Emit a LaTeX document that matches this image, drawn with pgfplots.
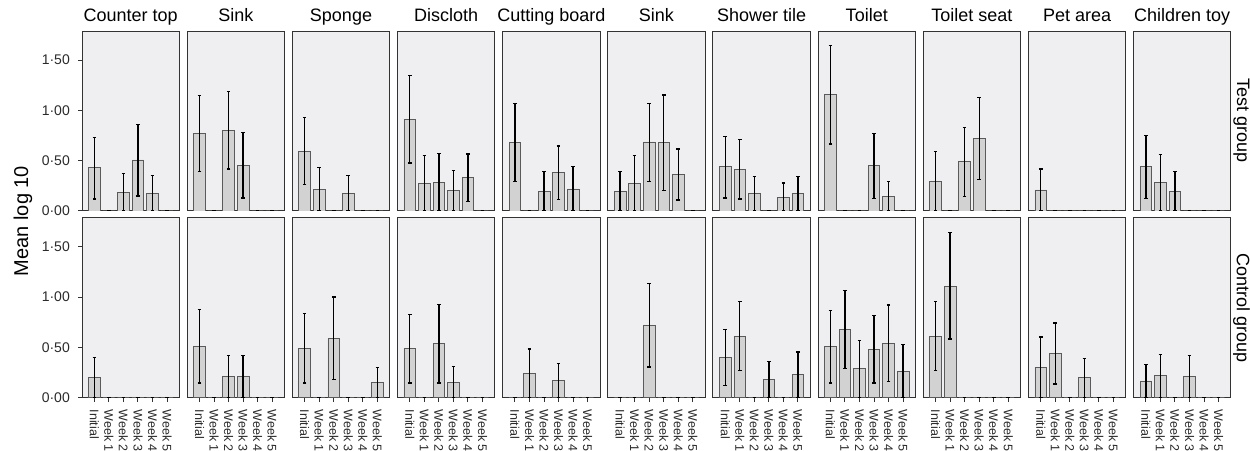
\documentclass[border=0pt]{standalone}
\usepackage{pgfplots}
\pgfplotsset{compat=1.18}
\usepackage{fontspec}
\setmainfont{Liberation Sans}
\definecolor{panelbg}{HTML}{EFEFF1}
\definecolor{barfill}{HTML}{D2D2D2}
\definecolor{baredge}{HTML}{5A5A5A}
\definecolor{framecol}{HTML}{333333}
\definecolor{ticktext}{HTML}{2A2A2A}
\pgfplotsset{
  panel/.style={
    scale only axis, width=97.4pt, height=179.7pt,
    anchor=south west,
    xmin=0.15, xmax=6.85, ymin=0, ymax=1.786,
    axis background/.style={fill=panelbg},
    axis line style={draw=framecol, line width=1pt},
    xtick=\empty, ytick=\empty,
    xtick pos=bottom, ytick pos=left,
    tick align=outside, major tick length=4pt,
    tick style={draw=framecol, line width=1pt},
    ticklabel style={font=\fontsize{14}{16}\selectfont, text=ticktext},
    xticklabel style={rotate=-90, anchor=west, inner sep=0pt, font=\fontsize{12.5}{14}\selectfont},
    yticklabel style={inner sep=0pt},
    xticklabel shift=7.8pt, yticklabel shift=8pt,
    title style={font=\fontsize{18}{20}\selectfont, at={(0.5,1)}, anchor=base, yshift=3.3pt, inner sep=0pt},
  },
  leftcol/.style={ytick={0,0.5,1,1.5}, yticklabels={0·00,0·50,1·00,1·50}},
  bottomrow/.style={xtick={1,2,3,4,5,6}, xticklabels={Initial,Week 1,Week 2,Week 3,Week 4,Week 5}},
  barplot/.style={ybar, bar width=0.8, fill=barfill, draw=baredge, line width=0.7pt,
    error bars/.cd, y dir=both, y explicit,
    error bar style={black, line width=1.3pt},
    error mark options={rotate=90, black, mark size=1.8pt, line width=1.2pt}},
}
\newcommand\panel[5]{%
\begin{axis}[panel,#4,at={(#1pt,#2pt)},title={#3}]
\addplot[barplot] table[row sep=\\, x=x, y=y, y error plus expr=\thisrow{hi}-\thisrow{y}, y error minus expr=\thisrow{y}-\thisrow{lo}]{x y lo hi\\ #5};
\end{axis}}
\begin{document}
\begin{tikzpicture}
\useasboundingbox (0,0) rectangle (1250pt,450pt);
% top row (Test group)
\panel{82}{239}{Counter top}{leftcol}{1 0.43 0.12 0.73\\ 2 0 0 0\\ 3 0.186 0 0.37\\ 4 0.507 0.15 0.86\\ 5 0.176 0 0.35\\ 6 0 0 0\\}
\panel{187.15}{239}{Sink}{}{1 0.772 0.39 1.146\\ 2 0 0 0\\ 3 0.80 0.417 1.186\\ 4 0.457 0.13 0.782\\ 5 0 0 0\\ 6 0 0 0\\}
\panel{292.3}{239}{Sponge}{}{1 0.593 0.265 0.928\\ 2 0.215 0 0.43\\ 3 0 0 0\\ 4 0.176 0 0.35\\ 5 0 0 0\\ 6 0 0 0\\}
\panel{397.45}{239}{Discloth}{}{1 0.914 0.477 1.349\\ 2 0.275 0 0.553\\ 3 0.285 0 0.57\\ 4 0.205 0 0.404\\ 5 0.335 0.096 0.567\\ 6 0 0 0\\}
\panel{502.6}{239}{Cutting board}{}{1 0.683 0.295 1.067\\ 2 0 0 0\\ 3 0.195 0 0.394\\ 4 0.381 0.113 0.646\\ 5 0.219 0 0.44\\ 6 0 0 0\\}
\panel{607.75}{239}{Sink}{}{1 0.195 0 0.394\\ 2 0.275 0 0.55\\ 3 0.686 0.295 1.067\\ 4 0.679 0.205 1.153\\ 5 0.364 0.109 0.616\\ 6 0 0 0\\}
\panel{712.9}{239}{Shower tile}{}{1 0.44 0.129 0.742\\ 2 0.414 0.119 0.709\\ 3 0.172 0 0.341\\ 4 0 0 0\\ 5 0.139 0 0.278\\ 6 0.176 0 0.341\\}
\panel{818.05}{239}{Toilet}{}{1 1.16 0.666 1.647\\ 2 0 0 0\\ 3 0 0 0\\ 4 0.451 0.126 0.769\\ 5 0.146 0 0.29\\ 6 0 0 0\\}
\panel{923.2}{239}{Toilet seat}{}{1 0.295 0 0.59\\ 2 0 0 0\\ 3 0.49 0.146 0.83\\ 4 0.722 0.315 1.127\\ 5 0 0 0\\ 6 0 0 0\\}
\panel{1028.35}{239}{Pet area}{}{1 0.209 0 0.417\\ 2 0 0 0\\ 3 0 0 0\\ 4 0 0 0\\ 5 0 0 0\\ 6 0 0 0\\}
\panel{1133.5}{239}{Children toy}{}{1 0.44 0.126 0.749\\ 2 0.282 0 0.56\\ 3 0.195 0 0.394\\ 4 0 0 0\\ 5 0 0 0\\ 6 0 0 0\\}
% bottom row (Control group)
\panel{82}{52.3}{}{leftcol,bottomrow}{1 0.202 0 0.40\\ 2 0 0 0\\ 3 0 0 0\\ 4 0 0 0\\ 5 0 0 0\\ 6 0 0 0\\}
\panel{187.15}{52.3}{}{bottomrow}{1 0.51 0.146 0.875\\ 2 0 0 0\\ 3 0.212 0 0.417\\ 4 0.212 0 0.417\\ 5 0 0 0\\ 6 0 0 0\\}
\panel{292.3}{52.3}{}{bottomrow}{1 0.49 0.146 0.835\\ 2 0 0 0\\ 3 0.59 0.179 1.0\\ 4 0 0 0\\ 5 0 0 0\\ 6 0.149 0 0.298\\}
\panel{397.45}{52.3}{}{bottomrow}{1 0.49 0.146 0.825\\ 2 0 0 0\\ 3 0.54 0.146 0.924\\ 4 0.152 0 0.308\\ 5 0 0 0\\ 6 0 0 0\\}
\panel{502.6}{52.3}{}{bottomrow}{1 0 0 0\\ 2 0.242 0 0.484\\ 3 0 0 0\\ 4 0.172 0 0.338\\ 5 0 0 0\\ 6 0 0 0\\}
\panel{607.75}{52.3}{}{bottomrow}{1 0 0 0\\ 2 0 0 0\\ 3 0.719 0.305 1.137\\ 4 0 0 0\\ 5 0 0 0\\ 6 0 0 0\\}
\panel{712.9}{52.3}{}{bottomrow}{1 0.40 0.123 0.679\\ 2 0.613 0.272 0.954\\ 3 0 0 0\\ 4 0.182 0 0.358\\ 5 0 0 0\\ 6 0.232 0 0.454\\}
\panel{818.05}{52.3}{}{bottomrow}{1 0.51 0.146 0.865\\ 2 0.679 0.292 1.064\\ 3 0.288 0 0.57\\ 4 0.484 0.146 0.815\\ 5 0.543 0.162 0.921\\ 6 0.265 0 0.527\\}
\panel{923.2}{52.3}{}{bottomrow}{1 0.613 0.272 0.954\\ 2 1.107 0.583 1.64\\ 3 0 0 0\\ 4 0 0 0\\ 5 0 0 0\\ 6 0 0 0\\}
\panel{1028.35}{52.3}{}{bottomrow}{1 0.305 0 0.603\\ 2 0.441 0.136 0.742\\ 3 0 0 0\\ 4 0.199 0 0.391\\ 5 0 0 0\\ 6 0 0 0\\}
\panel{1133.5}{52.3}{}{bottomrow}{1 0.166 0 0.328\\ 2 0.219 0 0.427\\ 3 0 0 0\\ 4 0.215 0 0.421\\ 5 0 0 0\\ 6 0 0 0\\}
% strip labels and y label
\node[rotate=-90, font=\fontsize{18}{20}\selectfont] at (1241.5pt,329pt) {Test group};
\node[rotate=-90, font=\fontsize{18}{20}\selectfont] at (1241.5pt,142.3pt) {Control group};
\node[rotate=90, font=\fontsize{20}{22}\selectfont] at (23pt,229pt) {Mean log 10};
\end{tikzpicture}
\end{document}
